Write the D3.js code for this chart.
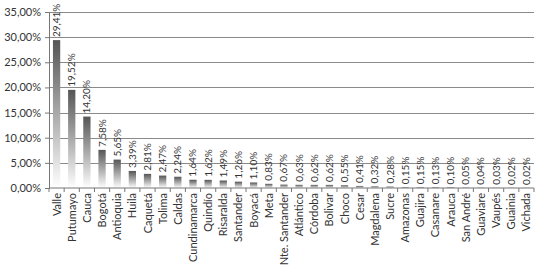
<!DOCTYPE html>
<head>
  <meta charset="utf-8">
  <script src="https://cdn.jsdelivr.net/npm/d3@7"></script>
</head>
<style>
  body { margin: 0; background: #fff; }
  .tick text { font-family: Lato, sans-serif; fill: #333; }
  .val { font-family: Lato, sans-serif; font-size: 10px; fill: #333; }
</style>
<body>
  <svg id="chart"></svg>
</body>
<script>

var departamentos = ['Valle', 'Putumayo', 'Cauca', 'Bogotá', 'Antioquia', 'Huila', 'Caquetá', 'Tolima',
  'Caldas', 'Cundinamarca', 'Quindío', 'Risaralda', 'Santander', 'Boyacá', 'Meta', 'Nte. Santander',
  'Atlántico', 'Córdoba', 'Bolivar', 'Choco', 'Cesar', 'Magdalena', 'Sucre', 'Amazonas', 'Guajira',
  'Casanare', 'Arauca', 'San André', 'Guaviare', 'Vaupés', 'Guainia', 'Vichada'];

var porcentajes = [29.41, 19.52, 14.20, 7.58, 5.65, 3.39, 2.81, 2.47, 2.24, 1.64, 1.62, 1.49, 1.26, 1.10,
  0.83, 0.67, 0.63, 0.62, 0.62, 0.55, 0.41, 0.32, 0.28, 0.15, 0.15, 0.13, 0.10, 0.05, 0.04, 0.03, 0.02, 0.02];

var y_ticks = [0, 5, 10, 15, 20, 25, 30, 35];

var width = 539, height = 270,
    margin = {top: 12, right: 5, bottom: 82, left: 49};

var es = d3.formatLocale({decimal: ',', thousands: '.', grouping: [3], currency: ['', '']});
var pct = function(v) { return es.format('.2f')(v) + '%'; };

var svg = d3.select('#chart').attr('width', width).attr('height', height);

var defs = svg.append('defs');
var grad = defs.append('linearGradient').attr('id', 'bar-grad')
  .attr('x1', 0).attr('y1', 0).attr('x2', 0).attr('y2', 1);
grad.append('stop').attr('offset', '0%').attr('stop-color', '#555');
grad.append('stop').attr('offset', '100%').attr('stop-color', '#fff');

var x = d3.scaleBand()
  .domain(departamentos)
  .range([margin.left, width - margin.right])
  .paddingInner(0.52).paddingOuter(0.26);

var y = d3.scaleLinear()
  .domain([0, 35])
  .range([height - margin.bottom, margin.top]);

// gridlines
svg.append('g')
  .selectAll('line')
  .data(y_ticks.slice(1))
  .enter().append('line')
  .attr('x1', margin.left).attr('x2', width - margin.right)
  .attr('y1', function(d) { return Math.round(y(d)) + 0.5; })
  .attr('y2', function(d) { return Math.round(y(d)) + 0.5; })
  .attr('stroke', '#8a8a8a').attr('stroke-width', 1);

// bars
svg.append('g')
  .selectAll('rect')
  .data(porcentajes)
  .enter().append('rect')
  .attr('x', function(d, i) { return x(departamentos[i]); })
  .attr('width', x.bandwidth())
  .attr('y', function(d) { return y(d); })
  .attr('height', function(d) { return y(0) - y(d); })
  .attr('fill', 'url(#bar-grad)');

// value labels
svg.append('g')
  .selectAll('text')
  .data(porcentajes)
  .enter().append('text')
  .attr('class', 'val')
  .attr('transform', function(d, i) {
    return 'translate(' + (x(departamentos[i]) + x.bandwidth() / 2 + 3.5) + ',' + (y(d) - 3) + ') rotate(-90)';
  })
  .text(function(d) { return pct(d); });

// y axis
var yAxis = svg.append('g')
  .attr('transform', 'translate(' + margin.left + ',0)')
  .call(d3.axisLeft(y).tickValues(y_ticks).tickSize(4).tickPadding(4).tickFormat(pct));
yAxis.selectAll('text').style('font-size', '11px');

// x axis, ticks between categories
var xAxis = svg.append('g')
  .attr('transform', 'translate(0,' + y(0) + ')');
xAxis.append('line')
  .attr('x1', margin.left).attr('x2', width - margin.right)
  .attr('stroke', '#777');
xAxis.selectAll('line.sep')
  .data(d3.range(departamentos.length + 1))
  .enter().append('line')
  .attr('class', 'sep')
  .attr('x1', function(i) { return margin.left + i * x.step(); })
  .attr('x2', function(i) { return margin.left + i * x.step(); })
  .attr('y1', 0).attr('y2', 4)
  .attr('stroke', '#777');
xAxis.selectAll('text')
  .data(departamentos)
  .enter().append('text')
  .attr('transform', function(d) {
    return 'translate(' + (x(d) + x.bandwidth() / 2 + 4) + ',5) rotate(-90)';
  })
  .attr('text-anchor', 'end')
  .style('font-family', 'Lato, sans-serif')
  .style('font-size', '11px')
  .attr('fill', '#333')
  .text(function(d) { return d; });

yAxis.select('.domain').attr('stroke', '#777');
yAxis.selectAll('.tick line').attr('stroke', '#777');

</script>
